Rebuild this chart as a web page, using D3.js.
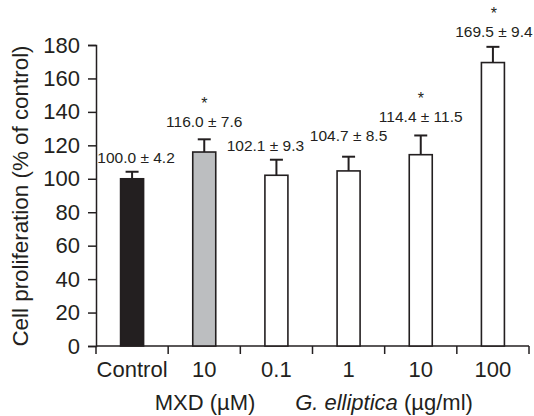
<!DOCTYPE html>
<html>
<head>
<meta charset="utf-8">
<script src="https://cdn.jsdelivr.net/npm/d3@7"></script>
<style>
  body { margin: 0; background: #fff; }
  svg { display: block; font-family: "Liberation Sans", Arial, sans-serif; }
</style>
</head>
<body>
<svg id="chart" width="534" height="416"></svg>
<script>
// data
const categories = ['Control', '10', '0.1', '1', '10', '100'];
const means = [100.0, 116.0, 102.1, 104.7, 114.4, 169.5];
const sds = [4.2, 7.6, 9.3, 8.5, 11.5, 9.4];
const significant = [false, true, false, false, true, true];
const yTicks = [0, 20, 40, 60, 80, 100, 120, 140, 160, 180];

const fills = ['#231f20', '#bcbec0', '#fff', '#fff', '#fff', '#fff'];
// hand nudges for the value labels, as in the original figure
const labelDx = [4, 0, -11, 0, 0, 1];
const labelGap = [9, 12, 9, 16, 13, 10];

const svg = d3.select('#chart');
const x0 = 96, x1 = 529, yBottom = 346, yTop = 45;
const ink = '#231f20';

const x = d3.scaleBand()
  .domain(d3.range(categories.length))
  .range([x0, x1])
  .padding(0);

const y = d3.scaleLinear()
  .domain([0, 180])
  .range([yBottom, yTop]);

const barW = 23;
const capW = 13;

// y axis
const yAxis = svg.append('g')
  .attr('transform', `translate(${x0},0)`)
  .call(d3.axisLeft(y).tickValues(yTicks).tickSize(8).tickPadding(8));
yAxis.select('.domain').attr('stroke', ink).attr('stroke-width', 1.5);
yAxis.selectAll('.tick line').attr('stroke', ink).attr('stroke-width', 1.5);
yAxis.selectAll('.tick text')
  .attr('font-size', 22)
  .attr('font-family', '"Liberation Sans", Arial, sans-serif')
  .attr('fill', ink);

// x axis: ticks sit between the categories
const xAxisG = svg.append('g');
xAxisG.append('line')
  .attr('x1', x0).attr('x2', x1)
  .attr('y1', yBottom).attr('y2', yBottom)
  .attr('stroke', ink).attr('stroke-width', 1.5);
const edges = d3.range(categories.length + 1).map(i => x0 + i * x.step());
xAxisG.selectAll('line.tk')
  .data(edges)
  .enter().append('line')
  .attr('class', 'tk')
  .attr('x1', d => d).attr('x2', d => d)
  .attr('y1', yBottom).attr('y2', yBottom + 8)
  .attr('stroke', ink).attr('stroke-width', 1.5);
xAxisG.selectAll('text')
  .data(categories)
  .enter().append('text')
  .attr('x', (d, i) => x(i) + x.bandwidth() / 2)
  .attr('y', 377)
  .attr('text-anchor', 'middle')
  .attr('font-size', 22)
  .attr('fill', ink)
  .text(d => d);

// bars
const bars = svg.append('g');
bars.selectAll('rect')
  .data(means)
  .enter().append('rect')
  .attr('x', (d, i) => x(i) + x.bandwidth() / 2 - barW / 2)
  .attr('y', d => y(d))
  .attr('width', barW)
  .attr('height', d => y(0) - y(d))
  .attr('fill', (d, i) => fills[i])
  .attr('stroke', ink)
  .attr('stroke-width', 1.6);

// error bars (upper half only)
const err = svg.append('g').attr('stroke', ink).attr('stroke-width', 2);
means.forEach((m, i) => {
  const cx = x(i) + x.bandwidth() / 2;
  err.append('line')
    .attr('x1', cx).attr('x2', cx)
    .attr('y1', y(m)).attr('y2', y(m + sds[i]));
  err.append('line')
    .attr('x1', cx - capW / 2).attr('x2', cx + capW / 2)
    .attr('y1', y(m + sds[i])).attr('y2', y(m + sds[i]));
});

// value labels and stars
const labels = svg.append('g').attr('fill', ink).attr('text-anchor', 'middle');
means.forEach((m, i) => {
  const cx = x(i) + x.bandwidth() / 2 + labelDx[i];
  const by = y(m + sds[i]) - labelGap[i];
  labels.append('text')
    .attr('x', cx).attr('y', by)
    .attr('font-size', 15.5)
    .text(`${m.toFixed(1)} ± ${sds[i].toFixed(1)}`);
  if (significant[i]) {
    labels.append('text')
      .attr('x', cx).attr('y', by - 18)
      .attr('font-size', 16)
      .text('*');
  }
});

// axis titles
svg.append('text')
  .attr('transform', `translate(28,196) rotate(-90)`)
  .attr('text-anchor', 'middle')
  .attr('font-size', 22.4)
  .attr('fill', ink)
  .text('Cell proliferation (% of control)');

svg.append('text')
  .attr('x', 205).attr('y', 410)
  .attr('text-anchor', 'middle')
  .attr('font-size', 22)
  .attr('fill', ink)
  .text('MXD (\u00b5M)');

const gt = svg.append('text')
  .attr('x', 384).attr('y', 410)
  .attr('text-anchor', 'middle')
  .attr('font-size', 22)
  .attr('fill', ink);
gt.append('tspan').attr('font-style', 'italic').text('G. elliptica');
gt.append('tspan').text(' (\u00b5g/ml)');
</script>
</body>
</html>
